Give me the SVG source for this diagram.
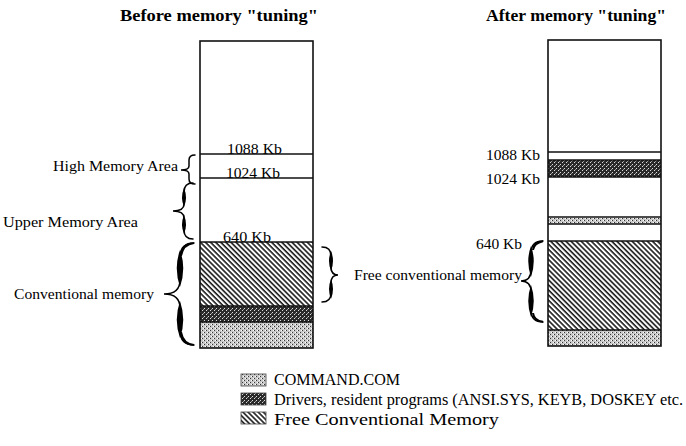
<svg xmlns="http://www.w3.org/2000/svg" width="686" height="446" viewBox="0 0 686 446">
<style>
text{font-family:"Liberation Serif","Times New Roman",serif;fill:#000}
.t{font-size:17px;font-weight:bold}
.l{font-size:15px}
.g{font-size:16px}
.k{font-size:15px}
.box{fill:none;stroke:#111;stroke-width:1.6}
.ln{stroke:#111;stroke-width:1.6}
.br{fill:none;stroke:#000;stroke-width:1.5;stroke-linecap:round}
.bf{fill:#000;stroke:none}
</style>
<defs>
<pattern id="hatch" width="3.6" height="3.6" patternUnits="userSpaceOnUse" patternTransform="rotate(45)">
<rect width="3.6" height="3.6" fill="#fff"/>
<rect x="0" y="0" width="3.6" height="1.6" fill="#1a1a1a"/>
</pattern>
<pattern id="light" width="4" height="4" patternUnits="userSpaceOnUse">
<rect width="4" height="4" fill="#c8c8c8"/>
<rect x="0" y="0" width="1" height="1" fill="#333"/>
<rect x="2" y="2" width="1" height="1" fill="#333"/>
<rect x="3" y="0" width="1" height="1" fill="#fff"/>
<rect x="1" y="2" width="1" height="1" fill="#fff"/>
</pattern>
<pattern id="dark" width="4" height="4" patternUnits="userSpaceOnUse">
<rect width="4" height="4" fill="#2a2a2a"/>
<rect x="0" y="0" width="1" height="1" fill="#ddd"/>
<rect x="2" y="2" width="1" height="1" fill="#ddd"/>
<rect x="3" y="1" width="1" height="1" fill="#999"/>
</pattern>
</defs>

<g id="title-before"><text class="t" x="120" y="21" textLength="198" lengthAdjust="spacingAndGlyphs">Before memory "tuning"</text></g>
<g id="title-after"><text class="t" x="486" y="21" textLength="180" lengthAdjust="spacingAndGlyphs">After memory "tuning"</text></g>

<g id="before-column">
<rect x="200" y="242" width="113" height="64" fill="url(#hatch)"/>
<rect x="200" y="306" width="113" height="16" fill="url(#dark)"/>
<rect x="200" y="322" width="113" height="26" fill="url(#light)"/>
<rect class="box" x="200" y="41" width="113" height="307"/>
<line class="ln" x1="200" y1="154" x2="313" y2="154"/>
<line class="ln" x1="200" y1="178" x2="313" y2="178"/>
<line class="ln" x1="200" y1="242" x2="313" y2="242"/>
<line class="ln" x1="200" y1="306" x2="313" y2="306"/>
<line class="ln" x1="200" y1="322" x2="313" y2="322"/>
<text class="k" x="227" y="154" textLength="55" lengthAdjust="spacingAndGlyphs">1088 Kb</text>
<text class="k" x="226" y="178" textLength="54" lengthAdjust="spacingAndGlyphs">1024 Kb</text>
<text class="k" x="223" y="242" textLength="48" lengthAdjust="spacingAndGlyphs">640 Kb</text>
</g>

<g id="after-column">
<rect x="548" y="160" width="113" height="17" fill="url(#dark)"/>
<rect x="548" y="218" width="113" height="6" fill="url(#light)"/>
<rect x="548" y="241" width="113" height="89" fill="url(#hatch)"/>
<rect x="548" y="330" width="113" height="16" fill="url(#light)"/>
<rect class="box" x="548" y="40" width="113" height="306"/>
<line class="ln" x1="548" y1="152" x2="661" y2="152"/>
<line class="ln" x1="548" y1="160" x2="661" y2="160"/>
<line class="ln" x1="548" y1="177" x2="661" y2="177"/>
<line class="ln" x1="548" y1="217" x2="661" y2="217"/>
<line class="ln" x1="548" y1="224" x2="661" y2="224"/>
<line class="ln" x1="548" y1="241" x2="661" y2="241"/>
<line class="ln" x1="548" y1="330" x2="661" y2="330"/>
<text class="k" x="486" y="160" textLength="54" lengthAdjust="spacingAndGlyphs">1088 Kb</text>
<text class="k" x="486" y="184" textLength="54" lengthAdjust="spacingAndGlyphs">1024 Kb</text>
<text class="k" x="476" y="249" textLength="46" lengthAdjust="spacingAndGlyphs">640 Kb</text>
</g>

<g id="label-hma"><text class="l" x="53" y="171" textLength="125" lengthAdjust="spacingAndGlyphs">High Memory Area</text></g>
<g id="label-uma"><text class="l" x="3" y="227" textLength="135" lengthAdjust="spacingAndGlyphs">Upper Memory Area</text></g>
<g id="label-conv"><text class="l" x="14" y="299" textLength="140" lengthAdjust="spacingAndGlyphs">Conventional memory</text></g>
<g id="label-free"><text class="l" x="354" y="280" textLength="168" lengthAdjust="spacingAndGlyphs">Free conventional memory</text></g>

<g id="braces">
<path class="br" d="M195,155 Q189,155 189,160 L189,166 Q189,170 181,170 Q189,170 189,174 L189,179 Q189,184 195,184"/>
<path class="br" d="M193,183 Q184,183 184,192 L184,204 Q184,211 173,211 Q184,211 184,218 L184,230 Q184,239 193,239"/>
<path class="bf" d="M184,188 Q180,197.5 184,207 Q188,197.5 184,188Z M184,215 Q180,224.5 184,234 Q188,224.5 184,215Z"/>
<path class="br" d="M194,243 Q180,243 180,258 L180,280 Q180,294 164,294 Q180,294 180,308 L180,330 Q180,345 194,345"/>
<path class="bf" d="M180,250 Q173.5,268 180,287 Q186.5,268 180,250Z M180,301 Q173.5,320 180,338 Q186.5,320 180,301Z"/>
<path class="bf" d="M194,242.2 Q181,242.5 179.5,256 L182,256 Q184,245 194,244Z M194,345.8 Q181,345.5 179.5,332 L182,332 Q184,343 194,344Z"/>
<path class="br" d="M322,247 Q331,247 331,256 L331,267 Q331,275 338,275 Q331,275 331,283 L331,293 Q331,302 322,302"/>
<path class="bf" d="M331,251 Q335,261 331,271 Q327,261 331,251Z M331,279 Q335,289 331,299 Q327,289 331,279Z"/>
<path class="br" d="M543,241 Q531,241 531,253 L531,270 Q531,281 521,281 Q531,281 531,292 L531,310 Q531,322 543,322"/>
<path class="bf" d="M531,246 Q525.5,261 531,277 Q536.5,261 531,246Z M531,285 Q525.5,301 531,317 Q536.5,301 531,285Z"/>
<path class="bf" d="M543,240.3 Q533,241 532,250 L534,250 Q535,244 543,242.2Z M543,322.7 Q533,322 532,313 L534,313 Q535,320 543,320.8Z"/>
</g>

<g id="legend">
<rect x="241" y="374" width="25" height="12" fill="url(#light)" stroke="#444" stroke-width="0.8"/>
<text class="g" x="274" y="385" textLength="126" lengthAdjust="spacingAndGlyphs">COMMAND.COM</text>
<rect x="241" y="393" width="25" height="12" fill="url(#dark)" stroke="#444" stroke-width="0.8"/>
<text class="g" x="274" y="405" textLength="409" lengthAdjust="spacingAndGlyphs">Drivers, resident programs (ANSI.SYS, KEYB, DOSKEY etc.</text>
<rect x="241" y="412" width="25" height="12" fill="url(#hatch)" stroke="#444" stroke-width="0.8"/>
<text class="g" x="274" y="425" textLength="225" lengthAdjust="spacingAndGlyphs">Free Conventional Memory</text>
</g>
</svg>
